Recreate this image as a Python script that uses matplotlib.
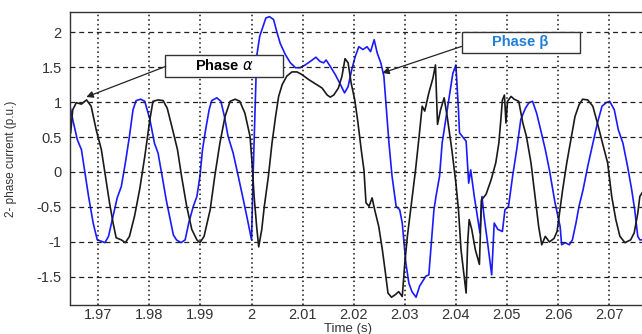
import numpy as np
import matplotlib
matplotlib.use('Agg')
import matplotlib.pyplot as plt
from matplotlib.patches import Rectangle

# 数据: 两相电流 (p.u.)
t_alpha = [1.9646, 1.9650, 1.9657, 1.9667, 1.9677, 1.9686, 1.9696, 1.9706, 1.9713, 1.9722,
           1.9729, 1.9735, 1.9745, 1.9753, 1.9761, 1.9771, 1.9781, 1.9791, 1.9801, 1.9807,
           1.9817, 1.9827, 1.9835, 1.9844, 1.9855, 1.9863, 1.9873, 1.9883, 1.9893, 1.9899,
           1.9907, 1.9919, 1.9928, 1.9938, 1.9948, 1.9958, 1.9968, 1.9977, 1.9987, 1.9997,
           2.0001, 2.0005, 2.0010, 2.0014, 2.0020, 2.0025, 2.0033, 2.0040, 2.0047, 2.0053,
           2.0060, 2.0069, 2.0079, 2.0089, 2.0099, 2.0112, 2.0125, 2.0138, 2.0148, 2.0154,
           2.0161, 2.0170, 2.0177, 2.0183, 2.0189, 2.0195, 2.0202, 2.0208, 2.0215, 2.0220,
           2.0224, 2.0230, 2.0236, 2.0241, 2.0249, 2.0256, 2.0262, 2.0267, 2.0274, 2.0282,
           2.0288, 2.0295, 2.0300, 2.0305, 2.0313, 2.0321, 2.0328, 2.0334, 2.0339, 2.0347,
           2.0355, 2.0360, 2.0364, 2.0370, 2.0377, 2.0383, 2.0392, 2.0400, 2.0405, 2.0410,
           2.0416, 2.0420, 2.0423, 2.0426, 2.0431, 2.0438, 2.0446, 2.0450, 2.0459, 2.0469,
           2.0478, 2.0484, 2.0488, 2.0491, 2.0495, 2.0498, 2.0501, 2.0508, 2.0514, 2.0523,
           2.0531, 2.0538, 2.0547, 2.0555, 2.0562, 2.0568, 2.0575, 2.0583, 2.0592, 2.0598,
           2.0602, 2.0609, 2.0617, 2.0625, 2.0633, 2.0641, 2.0648, 2.0658, 2.0668, 2.0677,
           2.0687, 2.0697, 2.0705, 2.0713, 2.0721, 2.0731, 2.0742, 2.0749, 2.0756, 2.0760,
           2.0766]
i_alpha = [0.56, 0.89, 0.99, 0.97, 1.03, 0.94, 0.60, 0.32, -0.01, -0.44,
           -0.73, -0.94, -0.97, -1.01, -0.92, -0.63, -0.25, 0.22, 0.75, 1.01,
           1.03, 1.02, 0.91, 0.65, 0.32, -0.06, -0.49, -0.82, -0.97, -1.01,
           -0.92, -0.54, -0.06, 0.41, 0.79, 1.01, 1.04, 1.01, 0.84, 0.51,
           0.13, -0.35, -0.78, -1.07, -0.82, -0.49, -0.06, 0.41, 0.79, 1.08,
           1.25, 1.37, 1.43, 1.43, 1.39, 1.32, 1.26, 1.20, 1.10, 1.07,
           1.10, 1.20, 1.37, 1.62, 1.56, 1.27, 1.03, 0.72, 0.30, 0.03,
           -0.44, -0.49, -0.37, -0.54, -0.78, -1.11, -1.44, -1.73, -1.79, -1.75,
           -1.71, -1.78, -1.30, -0.92, -0.44, 0.03, 0.51, 0.94, 0.87, 1.13,
           1.34, 1.53, 0.68, 0.89, 1.06, 0.79, 0.32, -0.16, -0.54, -1.11,
           -1.49, -1.73, -1.01, -0.68, -0.82, -1.11, -1.32, -0.40, -0.32, -0.11,
           0.13, 0.41, 0.75, 1.03, 1.10, 0.70, 1.01, 1.08, 1.04, 1.01,
           0.70, 0.51, 0.13, -0.35, -0.78, -1.04, -0.92, -1.00, -0.95, -0.85,
           -0.63, -0.25, 0.13, 0.46, 0.79, 0.96, 1.04, 1.03, 0.94, 0.70,
           0.41, 0.13, -0.35, -0.68, -0.92, -1.01, -0.97, -0.87, -0.59, -0.35,
           -0.28]

t_beta = [1.9644, 1.9650, 1.9659, 1.9667, 1.9673, 1.9681, 1.9690, 1.9698, 1.9706, 1.9713,
          1.9720, 1.9729, 1.9737, 1.9745, 1.9753, 1.9761, 1.9768, 1.9774, 1.9783, 1.9791,
          1.9801, 1.9810, 1.9817, 1.9825, 1.9833, 1.9840, 1.9847, 1.9853, 1.9862, 1.9870,
          1.9877, 1.9886, 1.9893, 1.9899, 1.9904, 1.9910, 1.9917, 1.9922, 1.9932, 1.9940,
          1.9947, 1.9954, 1.9964, 1.9974, 1.9984, 1.9992, 2.0000, 2.0003, 2.0007, 2.0010,
          2.0016, 2.0028, 2.0035, 2.0043, 2.0050, 2.0056, 2.0066, 2.0076, 2.0086, 2.0095,
          2.0105, 2.0115, 2.0126, 2.0134, 2.0141, 2.0146, 2.0154, 2.0164, 2.0174, 2.0182,
          2.0189, 2.0196, 2.0203, 2.0210, 2.0218, 2.0226, 2.0233, 2.0240, 2.0246, 2.0253,
          2.0259, 2.0264, 2.0269, 2.0275, 2.0283, 2.0290, 2.0295, 2.0302, 2.0308, 2.0314,
          2.0322, 2.0329, 2.0335, 2.0341, 2.0347, 2.0352, 2.0357, 2.0361, 2.0368, 2.0373,
          2.0381, 2.0388, 2.0394, 2.0400, 2.0405, 2.0407, 2.0420, 2.0425, 2.0429, 2.0436,
          2.0442, 2.0447, 2.0451, 2.0455, 2.0462, 2.0470, 2.0475, 2.0482, 2.0491, 2.0496,
          2.0503, 2.0511, 2.0519, 2.0527, 2.0536, 2.0543, 2.0550, 2.0558, 2.0566, 2.0575,
          2.0583, 2.0594, 2.0604, 2.0607, 2.0614, 2.0622, 2.0628, 2.0635, 2.0641, 2.0649,
          2.0658, 2.0668, 2.0677, 2.0686, 2.0694, 2.0701, 2.0710, 2.0718, 2.0727, 2.0736,
          2.0744, 2.0750, 2.0756, 2.0760, 2.0766]
i_beta = [0.96, 0.75, 0.46, 0.32, 0.03, -0.35, -0.73, -0.97, -0.99, -1.01,
          -0.92, -0.63, -0.37, -0.21, 0.13, 0.51, 0.89, 1.02, 1.04, 1.01,
          0.75, 0.41, 0.27, -0.06, -0.40, -0.65, -0.90, -0.97, -1.01, -0.97,
          -0.73, -0.49, -0.35, -0.06, 0.32, 0.60, 0.89, 1.02, 1.06, 1.01,
          0.79, 0.51, 0.27, -0.06, -0.40, -0.68, -0.97, -0.06, 0.89, 1.65,
          1.94, 2.20, 2.22, 2.18, 1.99, 1.84, 1.68, 1.56, 1.49, 1.49,
          1.53, 1.58, 1.64, 1.58, 1.56, 1.60, 1.51, 1.39, 1.25, 1.13,
          1.22, 1.46, 1.65, 1.79, 1.75, 1.79, 1.72, 1.89, 1.70, 1.56,
          1.37, 0.89, 0.41, -0.06, -0.49, -0.54, -0.73, -1.30, -1.59, -1.71,
          -1.79, -1.63, -1.56, -1.49, -1.47, -1.01, -0.54, -0.35, -0.06, 0.41,
          0.79, 1.13, 1.41, 1.53, 0.89, 0.56, 0.44, -0.16, 0.03, -0.35,
          -0.63, -0.87, -0.35, -0.63, -1.01, -1.47, -0.73, -0.82, -0.85, -0.54,
          -0.49, -0.06, 0.32, 0.75, 0.91, 0.99, 1.01, 0.84, 0.60, 0.32,
          0.03, -0.44, -0.78, -1.04, -1.01, -1.04, -0.97, -0.73, -0.49, -0.25,
          0.08, 0.41, 0.70, 0.94, 0.99, 1.01, 0.89, 0.60, 0.41, 0.08,
          -0.25, -0.54, -0.92, -0.97, -0.97]

x_ticks = [1.97, 1.98, 1.99, 2.0, 2.01, 2.02, 2.03, 2.04, 2.05, 2.06, 2.07]
x_labels = ['1.97', '1.98', '1.99', '2', '2.01', '2.02', '2.03', '2.04', '2.05', '2.06', '2.07']
y_ticks = [-1.5, -1, -0.5, 0, 0.5, 1, 1.5, 2]
y_labels = ['-1.5', '-1', '-0.5', '0', '0.5', '1', '1.5', '2']

plt.rcParams['font.family'] = ['Liberation Sans', 'DejaVu Sans']

fig = plt.figure(figsize=(6.42, 3.34), dpi=100)
ax = fig.add_axes([0.109, 0.087, 0.897, 0.877])

# 曲线
ax.plot(t_beta, i_beta, color='#1a1aff', lw=1.2)
ax.plot(t_alpha, i_alpha, color='#1a1a1a', lw=1.2)

ax.set_xlim(1.96446, 2.07718)
ax.set_ylim(-1.9, 2.286)
ax.set_xticks(x_ticks)
ax.set_xticklabels(x_labels)
ax.set_yticks(y_ticks)
ax.set_yticklabels(y_labels)
ax.tick_params(direction='in', length=0, labelsize=10.5, labelcolor='#333333')
ax.tick_params(axis='x', pad=2)
ax.tick_params(axis='y', pad=6)

# 网格: 横线虚线, 竖线点线
ax.yaxis.grid(True, linestyle=(0, (4, 3)), color='#222222', lw=0.9)
ax.xaxis.grid(True, linestyle=(0, (1, 2)), color='#111111', lw=1.1)
ax.set_axisbelow(False)

for s in ['top', 'left', 'bottom']:
    ax.spines[s].set_color('#333333')
    ax.spines[s].set_linewidth(1.0)
ax.spines['right'].set_visible(False)

ax.set_xlabel('Time (s)', fontsize=9.5, color='#333333', va='center')
ax.xaxis.set_label_coords(0.483, -0.083)
ax.set_ylabel('2- phase current (p.u.)', fontsize=8.5, color='#333333', va='center')
ax.yaxis.set_label_coords(-0.102, 0.5)

# 标注框和箭头
ax.add_patch(Rectangle((1.98309, 1.361), 0.02305, 0.315, facecolor='white',
                       edgecolor='#333333', lw=1.0, zorder=5))
ax.text(1.99461, 1.515, 'Phase $\\alpha$', ha='center', va='center', fontsize=10.5,
        fontweight='bold', color='black', zorder=6)
ax.annotate('', xy=(1.96765, 1.071), xytext=(1.98320, 1.509),
            arrowprops=dict(arrowstyle='-|>', color='#222222', lw=0.9,
                            mutation_scale=10, shrinkA=0, shrinkB=0), zorder=6)

ax.add_patch(Rectangle((2.04113, 1.704), 0.02309, 0.300, facecolor='white',
                       edgecolor='#333333', lw=1.0, zorder=5))
ax.text(2.05268, 1.855, 'Phase β', ha='center', va='center', fontsize=10.5,
        fontweight='bold', color='#1f7fd6', zorder=6)
ax.annotate('', xy=(2.02557, 1.414), xytext=(2.04110, 1.794),
            arrowprops=dict(arrowstyle='-|>', color='#222222', lw=0.9,
                            mutation_scale=10, shrinkA=0, shrinkB=0), zorder=6)

fig.savefig('out.png', dpi=100)
